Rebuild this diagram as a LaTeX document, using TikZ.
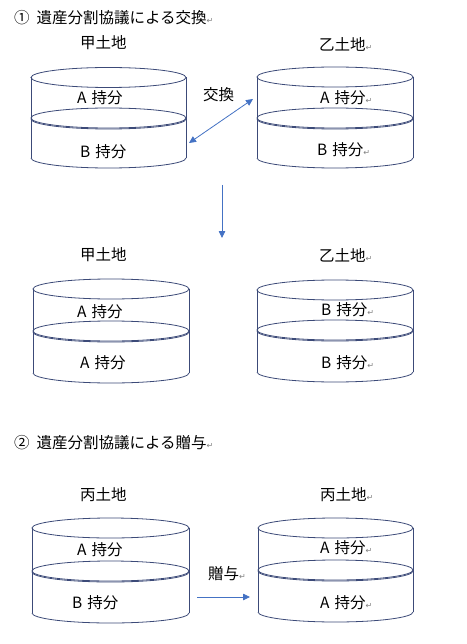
\documentclass[tikz,border=0pt]{standalone}
\usepackage{fontspec}
\setmainfont{Noto Sans CJK JP}
\newfontfamily\dejavu{DejaVu Sans}
\usetikzlibrary{arrows.meta}
\definecolor{tankcol}{HTML}{3C4A78}
\definecolor{arrcol}{HTML}{4472C4}
\newcommand{\retmark}{{\dejavu\color{gray}\fontsize{8}{8}\selectfont ↵}}
\newcommand{\mochi}[1]{#1\hspace{0.32em}持分}
\newcommand{\tank}[5]{%
  \pgfmathsetmacro\tcx{(#1+#2)/2}%
  \pgfmathsetmacro\trx{(#2-#1)/2}%
  \draw[tankline] (\tcx,#3) ellipse [x radius=\trx pt, y radius=10pt];
  \draw[tankline] (\tcx,#4) ellipse [x radius=\trx pt, y radius=10pt];
  \draw[tankline] (#1,#4+1) arc [start angle=180, end angle=360, x radius=\trx pt, y radius=10pt];
  \draw[tankline] (#1,#5) arc [start angle=180, end angle=360, x radius=\trx pt, y radius=10pt];
  \draw[tankline] (#1,#3) -- (#1,#5);
  \draw[tankline] (#2,#3) -- (#2,#5);
}
\begin{document}
\begin{tikzpicture}[x=1pt,y=-1pt,
  tankline/.style={draw=tankcol, line width=0.8pt},
  lbl/.style={anchor=west, inner sep=0pt, font=\fontsize{15.5}{15.5}\selectfont},
  conn/.style={draw=arrcol, line width=0.8pt, -{Triangle[length=7pt,width=6.5pt]}},
  conn2/.style={draw=arrcol, line width=0.8pt, {Triangle[length=7pt,width=6.5pt]}-{Triangle[length=7pt,width=6.5pt]}}]
\useasboundingbox (0,0) rectangle (466,644);
\fill[white] (0,0) rectangle (466,644);

% Section 1
\node[lbl] (t1) at (14,18) {①\hspace{7pt}遺産分割協議による交換\retmark};
\node[lbl] (k1) at (80,43) {甲土地};
\node[lbl] (o1) at (319,44) {乙土地\retmark};
\tank{31}{186}{77.5}{118}{158}
\tank{257}{413}{77}{118}{158}
\node[lbl] (k1a) at (77,98) {\mochi{A}};
\node[lbl] (k1b) at (80,152) {\mochi{B}};
\node[lbl] (o1a) at (320,98) {\mochi{A}\retmark};
\node[lbl] (o1b) at (317,150) {\mochi{B}\retmark};
\node[lbl] (ex) at (203,95) {交換};
\coordinate (exA) at (189,143);
\coordinate (exB) at (253,99);
\draw[conn2] (exA) -- (exB);
\coordinate (dn1) at (222,185);
\coordinate (dn2) at (222,238);
\draw[conn] (dn1) -- (dn2);

\node[lbl] (k2) at (80,255) {甲土地};
\node[lbl] (o2) at (319,255) {乙土地\retmark};
\tank{33}{189}{289}{331}{373}
\tank{257}{413}{290}{330}{372}
\node[lbl] (k2a) at (77,312) {\mochi{A}};
\node[lbl] (k2b) at (80,363) {\mochi{A}};
\node[lbl] (o2a) at (321,310) {\mochi{B}\retmark};
\node[lbl] (o2b) at (321,363) {\mochi{B}\retmark};

% Section 2
\node[lbl] (t2) at (14,443) {②\hspace{7pt}遺産分割協議による贈与\retmark};
\node[lbl] (h1) at (80,495) {丙土地};
\node[lbl] (h2) at (320,495) {丙土地\retmark};
\tank{32}{189}{528}{571}{613}
\tank{258}{413}{528}{570}{612}
\node[lbl] (h1a) at (77,550) {\mochi{A}};
\node[lbl] (h1b) at (72,603) {\mochi{B}};
\node[lbl] (h2a) at (320,548) {\mochi{A}\retmark};
\node[lbl] (h2b) at (320,603) {\mochi{A}\retmark};
\node[lbl] (gf) at (208,574) {贈与\retmark};
\coordinate (gA) at (197,597);
\coordinate (gB) at (250,597);
\draw[conn] (gA) -- (gB);
\end{tikzpicture}
\end{document}
